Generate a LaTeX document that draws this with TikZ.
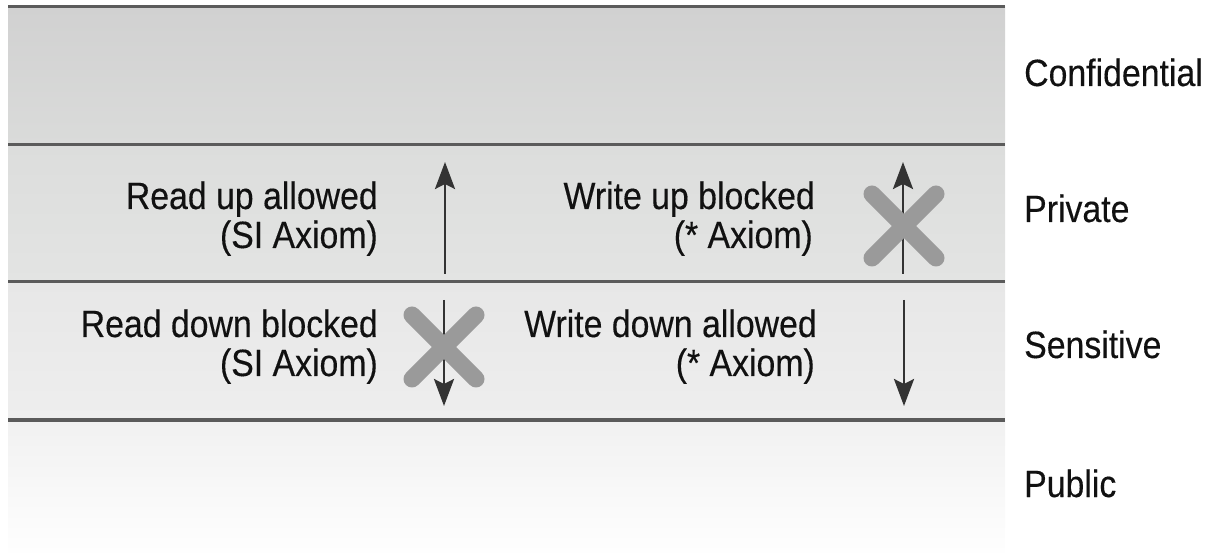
\documentclass[tikz,border=0pt]{standalone}
\usepackage{fontspec}
\setmainfont[FakeStretch=0.89,FakeBold=0.3]{Liberation Sans}
\usetikzlibrary{arrows.meta}
\definecolor{bandline}{HTML}{5B5B5B}
\definecolor{xmark}{HTML}{9A9A9A}
\definecolor{arrowc}{HTML}{333333}
\definecolor{txt}{HTML}{111111}
\tikzset{
  lbl/.style={inner sep=0pt, text=txt, font=\fontsize{38bp}{40bp}\selectfont},
  rlbl/.style={lbl, anchor=base east},
  levlbl/.style={lbl, anchor=base west},
  sepline/.style={draw=bandline, line width=3bp},
  flowarrow/.style={draw=arrowc, line width=2.8bp, -{Stealth[length=27bp,width=20bp,inset=5bp]}},
  blockx/.style={draw=xmark, line width=17bp, line cap=round}
}
\begin{document}
\begin{tikzpicture}[x=1bp,y=-1bp]
\useasboundingbox (0,0) rectangle (1215,553);
% bands
\shade[top color={rgb,255:red,209;green,209;blue,209}, bottom color={rgb,255:red,218;green,219;blue,218}] (8,7) rectangle (1005,145);
\shade[top color={rgb,255:red,220;green,221;blue,220}, bottom color={rgb,255:red,227;green,228;blue,227}] (8,145) rectangle (1005,282);
\shade[top color={rgb,255:red,231;green,231;blue,231}, bottom color={rgb,255:red,238;green,238;blue,238}] (8,282) rectangle (1005,420);
\shade[top color={rgb,255:red,241;green,241;blue,241}, bottom color={rgb,255:red,254;green,254;blue,254}] (8,420) rectangle (1005,553);
% separator lines
\coordinate (l0a) at (8,7);   \coordinate (l0b) at (1005,7);
\coordinate (l1a) at (8,145); \coordinate (l1b) at (1005,145);
\coordinate (l2a) at (8,282); \coordinate (l2b) at (1005,282);
\coordinate (l3a) at (8,420); \coordinate (l3b) at (1005,420);
\draw[sepline] (l0a) -- (l0b);
\draw[sepline] (l1a) -- (l1b);
\draw[sepline] (l2a) -- (l2b);
\draw[sepline] (l3a) -- (l3b);
% level labels
\node[levlbl] (conf) at (1024,86) {Confidential};
\node[levlbl] (priv) at (1024,222) {Private};
\node[levlbl] (sens) at (1024,358) {Sensitive};
\node[levlbl] (pub) at (1024,497) {Public};
% descriptions
\node[rlbl] (ru1) at (378,209) {Read up allowed};
\node[rlbl] (ru2) at (378,248) {(SI Axiom)};
\node[rlbl] (wu1) at (815,209) {Write up blocked};
\node[rlbl] (wu2) at (813,248) {(* Axiom)};
\node[rlbl] (rd1) at (378,337) {Read down blocked};
\node[rlbl] (rd2) at (378,376) {(SI Axiom)};
\node[rlbl] (wd1) at (817,337) {Write down allowed};
\node[rlbl] (wd2) at (815,376) {(* Axiom)};
% arrows
\coordinate (rua) at (445,274); \coordinate (rub) at (445,162);
\coordinate (wua) at (903,274); \coordinate (wub) at (903,162);
\coordinate (rda) at (444,300); \coordinate (rdb) at (444,406);
\coordinate (wda) at (904,300); \coordinate (wdb) at (904,406);
\draw[flowarrow] (rua) -- (rub);
\draw[flowarrow] (wua) -- (wub);
\draw[flowarrow] (rda) -- (rdb);
\draw[flowarrow] (wda) -- (wdb);
% blocked crosses
\coordinate (xw) at (904,226);
\coordinate (xr) at (444,347);
\draw[blockx] ([shift={(-32,-32)}]xw) -- ([shift={(32,32)}]xw);
\draw[blockx] ([shift={(-32,32)}]xw) -- ([shift={(32,-32)}]xw);
\draw[blockx] ([shift={(-32,-32)}]xr) -- ([shift={(32,32)}]xr);
\draw[blockx] ([shift={(-32,32)}]xr) -- ([shift={(32,-32)}]xr);
\end{tikzpicture}
\end{document}
